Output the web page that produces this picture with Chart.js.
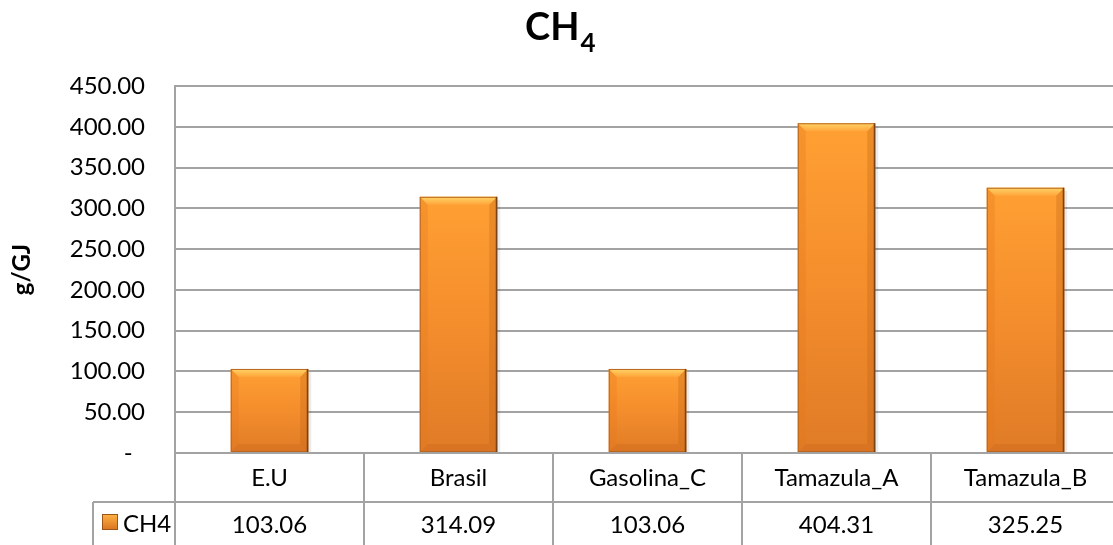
<!DOCTYPE html>
<html>
<head>
<meta charset="utf-8">
<title>CH4</title>
<script src="https://cdn.jsdelivr.net/npm/chart.js@4.4.1/dist/chart.umd.min.js"></script>
<style>
  html, body { margin: 0; padding: 0; background: #ffffff; }
  #wrap { position: relative; width: 1113px; height: 545px; overflow: hidden; }
  canvas { display: block; }
</style>
</head>
<body>
<div id="wrap"><canvas id="chart" width="1120" height="545"></canvas></div>
<script>
// Emission factors of methane per energy unit
const categories = ['E.U', 'Brasil', 'Gasolina_C', 'Tamazula_A', 'Tamazula_B'];
const ch4Values = [103.06, 314.09, 103.06, 404.31, 325.25];
const seriesName = 'CH4';
const yTicks = { min: 0, max: 450, step: 50 };

const FONT = 'Lato, "Open Sans", "DejaVu Sans", sans-serif';
const GRID = '#a3a3a3';

// Vertical orange gradient for each bar, from its top down to the baseline
function barGradient(context) {
  const chart = context.chart;
  const y = chart.scales && chart.scales.y;
  if (!y || context.raw == null) return '#f28c2c';
  const top = y.getPixelForValue(context.raw);
  const base = y.getPixelForValue(0);
  if (!isFinite(top) || !isFinite(base) || top === base) return '#f28c2c';
  const g = chart.ctx.createLinearGradient(0, top, 0, base);
  g.addColorStop(0, '#ffa033');
  g.addColorStop(0.5, '#f48d2c');
  g.addColorStop(1, '#e07b27');
  return g;
}

// Bevelled edges on top of the plain bars
const bevelPlugin = {
  id: 'bevel',
  afterDatasetsDraw(chart) {
    const ctx = chart.ctx;
    const meta = chart.getDatasetMeta(0);
    meta.data.forEach((bar) => {
      const half = bar.width / 2;
      const x0 = bar.x - half, x1 = bar.x + half;
      const yT = bar.y, yB = bar.base;
      const b = 8;
      ctx.save();
      // top facet
      let g = ctx.createLinearGradient(0, yT, 0, yT + b);
      g.addColorStop(0, '#ffd466');
      g.addColorStop(1, '#ffa53a');
      ctx.fillStyle = g;
      ctx.beginPath();
      ctx.moveTo(x0, yT); ctx.lineTo(x1, yT); ctx.lineTo(x1 - b, yT + b); ctx.lineTo(x0 + b, yT + b);
      ctx.closePath(); ctx.fill();
      // left facet
      ctx.fillStyle = 'rgba(230,120,30,0.3)';
      ctx.beginPath();
      ctx.moveTo(x0, yT); ctx.lineTo(x0 + b, yT + b); ctx.lineTo(x0 + b, yB - b); ctx.lineTo(x0, yB);
      ctx.closePath(); ctx.fill();
      // right facet
      ctx.fillStyle = 'rgba(190,95,20,0.3)';
      ctx.beginPath();
      ctx.moveTo(x1, yT); ctx.lineTo(x1 - b, yT + b); ctx.lineTo(x1 - b, yB - b); ctx.lineTo(x1, yB);
      ctx.closePath(); ctx.fill();
      // bottom facet
      ctx.fillStyle = 'rgba(200,100,25,0.3)';
      ctx.beginPath();
      ctx.moveTo(x0, yB); ctx.lineTo(x0 + b, yB - b); ctx.lineTo(x1 - b, yB - b); ctx.lineTo(x1, yB);
      ctx.closePath(); ctx.fill();
      // outline
      ctx.strokeStyle = '#b8661f';
      ctx.lineWidth = 1;
      ctx.strokeRect(x0 + 0.5, yT + 0.5, bar.width - 1, yB - yT - 1);
      ctx.strokeStyle = '#7a4315';
      ctx.lineWidth = 1.5;
      ctx.beginPath(); ctx.moveTo(x1 - 0.75, yT); ctx.lineTo(x1 - 0.75, yB); ctx.stroke();
      // soft shadow to the right
      ctx.fillStyle = 'rgba(0,0,0,0.08)';
      ctx.fillRect(x1, yT + 3, 3, yB - yT - 3);
      ctx.restore();
    });
  }
};

// Title with subscript
const titlePlugin = {
  id: 'chemTitle',
  afterDraw(chart) {
    const ctx = chart.ctx;
    ctx.save();
    ctx.fillStyle = '#000';
    ctx.textBaseline = 'alphabetic';
    ctx.textAlign = 'left';
    ctx.font = 'bold 38px ' + FONT;
    const mainW = ctx.measureText('CH').width;
    const x = 525;
    ctx.fillText('CH', x, 40);
    ctx.font = 'bold 26px ' + FONT;
    ctx.fillText('4', x + mainW + 1, 52);
    ctx.restore();
  }
};

// Data table under the plot: category row, then the series row with its key
const tablePlugin = {
  id: 'dataTable',
  afterDraw(chart) {
    const ctx = chart.ctx;
    const xs = chart.scales.x;
    const area = chart.chartArea;
    const top = area.bottom;
    const mid = top + 49;
    const bottom = chart.height;
    const keyLeft = 93;
    const n = categories.length;
    const colW = (area.right - area.left) / n;
    ctx.save();
    ctx.strokeStyle = GRID;
    ctx.lineWidth = 2;
    ctx.beginPath();
    // row separators
    ctx.moveTo(area.left, top); ctx.lineTo(area.right, top);
    ctx.moveTo(keyLeft, mid); ctx.lineTo(area.right, mid);
    // column separators
    for (let i = 0; i <= n; i++) {
      const x = Math.round(area.left + i * colW);
      ctx.moveTo(x, top); ctx.lineTo(x, bottom);
    }
    ctx.moveTo(keyLeft, mid); ctx.lineTo(keyLeft, bottom);
    ctx.stroke();

    ctx.fillStyle = '#000';
    ctx.font = '24px ' + FONT;
    ctx.textAlign = 'center';
    ctx.textBaseline = 'middle';
    categories.forEach((c, i) => {
      const cx = xs.getPixelForValue(i);
      ctx.fillText(c, cx, top + 25);
      ctx.fillText(ch4Values[i].toFixed(2), cx, mid + 23);
    });

    // series key
    const sx = 102, sy = mid + 12, ss = 16;
    const g = ctx.createLinearGradient(sx, sy, sx, sy + ss);
    g.addColorStop(0, '#ffb347');
    g.addColorStop(1, '#d9731f');
    ctx.fillStyle = g;
    ctx.fillRect(sx, sy, ss, ss);
    ctx.strokeStyle = '#9c5518';
    ctx.lineWidth = 1;
    ctx.strokeRect(sx + 0.5, sy + 0.5, ss - 1, ss - 1);
    ctx.fillStyle = '#000';
    ctx.textAlign = 'left';
    ctx.fillText(seriesName, 123, mid + 22);
    ctx.restore();
  }
};

new Chart(document.getElementById('chart'), {
  type: 'bar',
  data: {
    labels: categories,
    datasets: [{
      label: seriesName,
      data: ch4Values,
      backgroundColor: barGradient,
      borderWidth: 0,
      categoryPercentage: 1,
      barPercentage: 0.41
    }]
  },
  options: {
    responsive: false,
    animation: false,
    events: [],
    layout: { padding: { top: 86, right: 0, bottom: 92, left: 0 } },
    plugins: {
      legend: { display: false },
      title: { display: false },
      tooltip: { enabled: false }
    },
    scales: {
      x: {
        display: false,
        grid: { display: false }
      },
      y: {
        min: yTicks.min,
        max: yTicks.max,
        ticks: {
          stepSize: yTicks.step,
          color: '#000',
          font: { family: FONT, size: 24 },
          padding: 30,
          callback: (v) => (v === 0 ? '-  ' : v.toFixed(2))
        },
        grid: { color: GRID, lineWidth: 2, drawTicks: false },
        border: { display: true, color: GRID, width: 2 },
        title: {
          display: true,
          text: 'g/GJ',
          color: '#000',
          font: { family: FONT, size: 24, weight: 'bold' },
          padding: { top: 8, bottom: 0 }
        },
        afterFit(scale) { scale.width = 175; }
      }
    }
  },
  plugins: [bevelPlugin, titlePlugin, tablePlugin]
});
</script>
</body>
</html>
